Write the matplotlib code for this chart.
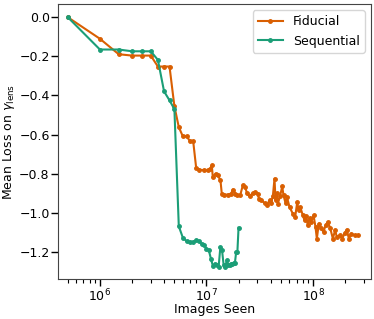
import matplotlib
matplotlib.use("Agg")
import matplotlib.pyplot as plt
import numpy as np

# sequential run: logged every 5e5 images
seq_images = np.array([0.5, 1.0, 1.5, 2.0, 2.5, 3.0, 3.5, 4.0, 4.5, 5.0,
                       5.5, 6.0, 6.5, 7.0, 7.5, 8.0, 8.5, 9.0, 9.5, 10.0,
                       10.5, 11.0, 11.5, 12.0, 12.5, 13.0, 13.5, 14.0, 14.5, 15.0,
                       15.5, 16.0, 16.5, 17.0, 17.5, 18.0, 18.5, 19.0, 19.5, 20.0]) * 1e6
seq_loss = [0.0, -0.165, -0.165, -0.174, -0.174, -0.174, -0.218, -0.379, -0.425, -0.47,
            -1.069, -1.127, -1.145, -1.149, -1.149, -1.14, -1.145, -1.158, -1.165, -1.183,
            -1.19, -1.234, -1.273, -1.26, -1.265, -1.277, -1.175, -1.192, -1.268, -1.277,
            -1.243, -1.265, -1.265, -1.26, -1.26, -1.255, -1.255, -1.2, -1.2, -1.076]

# fiducial run
fid_images = [5.0e5, 1.0e6, 1.5e6, 2.0e6, 2.5e6, 3.0e6, 3.5e6, 4.0e6, 4.5e6, 5.0e6,
              5.5e6, 6.0e6, 6.5e6, 7.0e6, 7.5e6, 8.0e6, 8.59e6, 9.57e6, 1.028e7, 1.083e7,
              1.122e7, 1.146e7, 1.216e7, 1.277e7, 1.353e7, 1.392e7, 1.476e7, 1.585e7, 1.706e7, 1.766e7,
              1.872e7, 1.954e7, 2.071e7, 2.191e7, 2.308e7, 2.399e7, 2.535e7, 2.704e7, 2.884e7, 3.033e7,
              3.1e7, 3.283e7, 3.506e7, 3.684e7, 3.905e7, 4.033e7, 4.195e7, 4.35e7, 4.446e7, 4.57e7,
              4.674e7, 4.898e7, 5.14e7, 5.284e7, 5.52e7, 5.7e7, 6.015e7, 6.458e7, 6.8e7, 7.11e7,
              7.31e7, 7.586e7, 8.02e7, 8.32e7, 8.63e7, 8.93e7, 9.27e7, 9.61e7, 1.011e8, 1.055e8,
              1.086e8, 1.133e8, 1.189e8, 1.255e8, 1.31e8, 1.377e8, 1.451e8, 1.535e8, 1.61e8, 1.675e8,
              1.775e8, 1.88e8, 1.976e8, 2.076e8, 2.168e8, 2.284e8, 2.455e8, 2.634e8]
fid_loss = [0.0, -0.11, -0.189, -0.196, -0.196, -0.196, -0.252, -0.252, -0.252, -0.455,
            -0.562, -0.609, -0.609, -0.633, -0.633, -0.769, -0.779, -0.783, -0.783, -0.774,
            -0.757, -0.817, -0.8, -0.808, -0.834, -0.902, -0.907, -0.907, -0.902, -0.881,
            -0.902, -0.911, -0.911, -0.86, -0.868, -0.9, -0.916, -0.9, -0.894, -0.902,
            -0.927, -0.936, -0.95, -0.962, -0.936, -0.951, -0.916, -0.825, -0.936, -0.9,
            -0.953, -0.916, -0.865, -0.911, -0.95, -0.921, -0.97, -1.004, -1.021, -0.945,
            -0.987, -0.97, -1.013, -1.038, -1.018, -1.064, -1.028, -1.047, -1.013, -1.073,
            -1.132, -1.055, -1.079, -1.098, -1.064, -1.047, -1.079, -1.132, -1.089, -1.124,
            -1.115, -1.132, -1.105, -1.086, -1.132, -1.106, -1.115, -1.115]

fig = plt.figure(figsize=(3.74, 3.19), dpi=100)
ax = fig.add_axes([0.155, 0.125, 0.837, 0.862])

ax.plot(fid_images, fid_loss, color="#d95f02", marker="o", markersize=2.5,
        linewidth=1.5, label="Fiducial")
ax.plot(seq_images, seq_loss, color="#1b9e77", marker="o", markersize=2.5,
        linewidth=1.5, label="Sequential")

ax.set_xscale("log")
ax.set_xlim(4.04e5, 3.5e8)
ax.set_ylim(-1.339, 0.067)
ax.set_yticks([0.0, -0.2, -0.4, -0.6, -0.8, -1.0, -1.2])
ax.set_xlabel("Images Seen", fontsize=9)
ax.set_ylabel(r"Mean Loss on $\gamma_{\rm lens}$", fontsize=9)
ax.xaxis.set_label_coords(0.5, -0.088)
ax.yaxis.set_label_coords(-0.13, 0.5)
ax.tick_params(axis="both", which="major", labelsize=9, length=5, width=1, pad=1)
ax.tick_params(axis="x", which="minor", length=3, width=0.8)
for s in ax.spines.values():
    s.set_color("#444444")

ax.legend(loc="upper right", fontsize=9, handlelength=2.0)

fig.savefig("out.png", dpi=100)
